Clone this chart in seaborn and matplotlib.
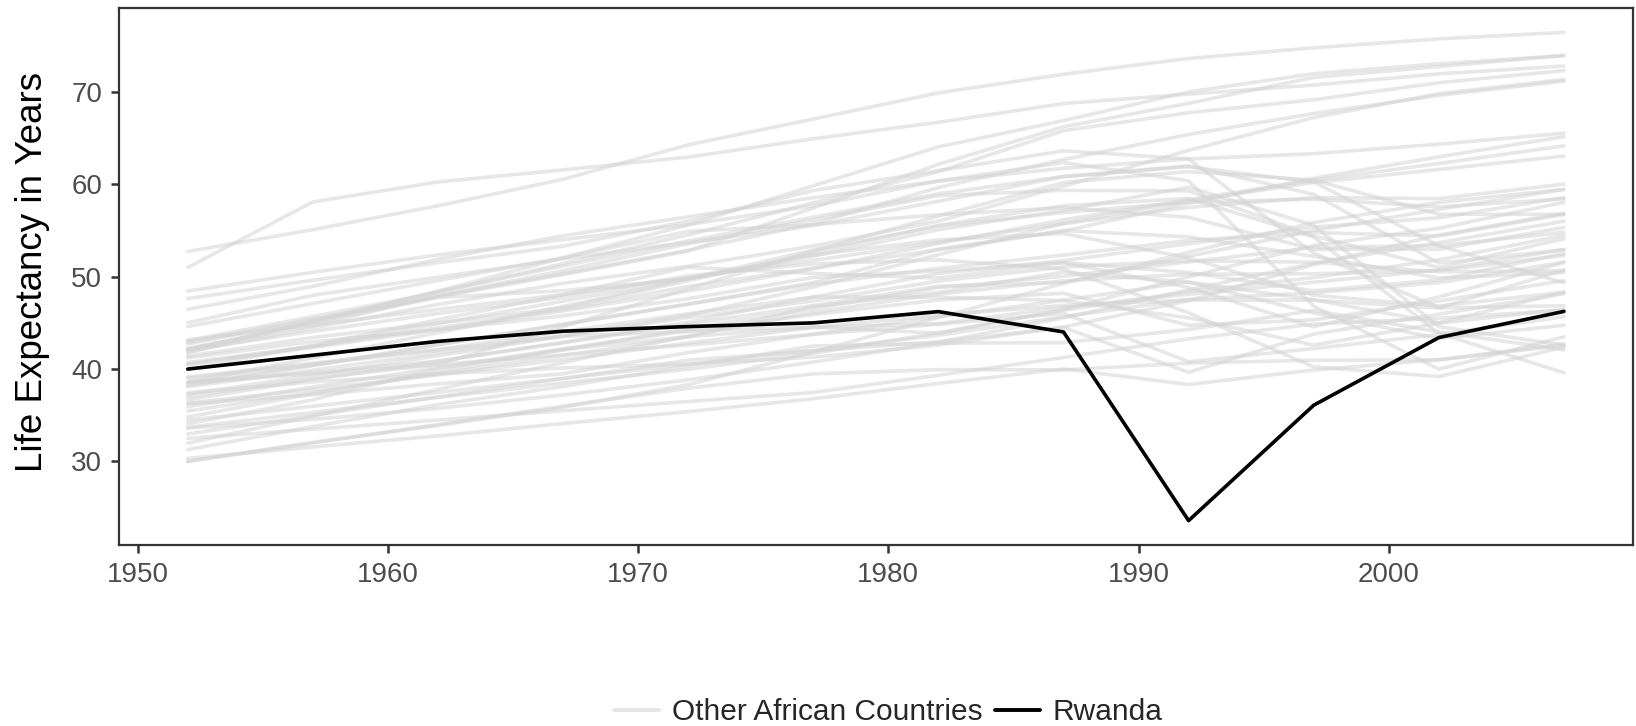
import matplotlib
matplotlib.use("Agg")
import matplotlib.pyplot as plt
import seaborn as sns
import pandas as pd
from matplotlib.lines import Line2D

years = [1952, 1957, 1962, 1967, 1972, 1977, 1982, 1987, 1992, 1997, 2002, 2007]

algeria = [43.08, 45.69, 48.30, 51.41, 54.52, 58.01, 61.37, 65.80, 67.74, 69.15, 70.99, 72.30]
angola = [30.02, 32.00, 34.00, 35.99, 37.93, 39.48, 39.94, 39.91, 40.65, 40.96, 41.00, 42.73]
benin = [38.22, 40.36, 42.62, 44.89, 47.01, 49.19, 50.90, 52.34, 53.92, 54.78, 54.41, 56.73]
botswana = [47.62, 49.62, 51.52, 53.30, 56.02, 59.32, 61.48, 63.62, 62.75, 52.56, 46.63, 50.73]
burkina_faso = [31.98, 34.91, 37.81, 40.70, 43.59, 46.14, 48.12, 49.56, 50.26, 50.32, 50.65, 52.30]
burundi = [39.03, 40.53, 42.05, 43.55, 44.06, 45.91, 47.47, 48.21, 44.74, 45.33, 47.36, 49.58]
cameroon = [38.52, 40.43, 42.64, 44.80, 47.05, 49.36, 52.96, 54.99, 54.31, 52.20, 49.86, 50.43]
central_african_rep = [35.46, 37.46, 39.48, 41.48, 43.46, 46.78, 48.30, 50.49, 49.40, 46.07, 43.31, 44.74]
chad = [38.09, 39.88, 41.72, 43.60, 45.57, 47.38, 49.52, 51.05, 51.72, 51.57, 50.53, 50.65]
comoros = [40.72, 42.46, 44.47, 46.47, 48.94, 50.94, 52.93, 54.93, 57.94, 60.66, 62.97, 65.15]
congo_dem_rep = [39.14, 40.65, 42.12, 44.06, 45.99, 47.80, 47.78, 47.41, 45.55, 42.59, 44.97, 46.46]
congo_rep = [42.11, 45.05, 48.44, 52.04, 54.91, 55.63, 56.70, 57.47, 56.43, 52.96, 52.97, 55.32]
cote_divoire = [40.48, 42.47, 44.93, 47.35, 49.80, 52.37, 53.98, 54.66, 52.04, 47.99, 46.83, 48.33]
djibouti = [34.81, 37.33, 39.69, 42.07, 44.37, 46.52, 48.81, 50.04, 51.60, 53.16, 53.37, 54.79]
egypt = [41.89, 44.44, 46.99, 49.29, 51.14, 53.32, 56.01, 59.80, 63.67, 67.22, 69.81, 71.34]
equatorial_guinea = [34.48, 35.98, 37.49, 38.99, 40.52, 42.02, 43.66, 45.66, 47.55, 48.25, 49.35, 51.58]
eritrea = [35.93, 38.05, 40.16, 42.19, 44.14, 44.54, 43.89, 46.45, 49.99, 53.38, 55.24, 58.04]
ethiopia = [34.08, 36.67, 40.06, 42.12, 43.52, 44.51, 44.92, 46.68, 48.09, 49.40, 50.73, 52.95]
gabon = [37.00, 39.00, 40.49, 44.60, 48.69, 52.79, 56.56, 60.19, 61.37, 60.46, 56.76, 56.74]
gambia = [30.00, 32.07, 33.90, 35.86, 38.31, 41.84, 45.58, 49.27, 52.64, 55.86, 58.04, 59.45]
ghana = [43.15, 44.78, 46.45, 48.07, 49.88, 51.76, 53.74, 55.73, 57.50, 58.56, 58.45, 60.02]
guinea = [33.61, 34.56, 35.75, 37.20, 38.84, 40.76, 42.89, 45.55, 48.58, 51.46, 53.68, 56.01]
guinea_bissau = [32.50, 33.49, 34.49, 35.49, 36.49, 37.47, 39.33, 41.25, 43.27, 44.87, 45.50, 46.39]
kenya = [42.27, 44.69, 47.95, 50.65, 53.56, 56.16, 58.77, 59.34, 59.29, 54.41, 50.99, 54.11]
lesotho = [42.14, 45.05, 47.75, 48.49, 49.77, 52.21, 55.08, 57.18, 59.69, 55.56, 44.59, 42.59]
liberia = [38.48, 39.49, 40.50, 41.54, 42.61, 43.76, 44.85, 46.03, 40.80, 42.22, 43.75, 45.68]
libya = [42.72, 45.29, 47.81, 50.23, 52.77, 57.44, 62.16, 66.23, 68.76, 71.56, 72.74, 73.95]
madagascar = [36.68, 38.87, 40.85, 42.88, 44.85, 46.88, 48.97, 49.35, 52.21, 54.98, 57.29, 59.44]
malawi = [36.26, 37.21, 38.41, 39.49, 41.77, 43.77, 45.64, 47.46, 49.42, 47.50, 45.01, 48.30]
mali = [33.69, 35.31, 36.94, 38.49, 39.98, 41.71, 43.92, 46.36, 48.39, 49.90, 51.82, 54.47]
mauritania = [40.54, 42.34, 44.25, 46.29, 48.44, 50.85, 53.60, 56.15, 58.33, 60.43, 62.25, 64.16]
mauritius = [50.99, 58.09, 60.25, 61.56, 62.94, 64.93, 66.71, 68.74, 69.75, 70.74, 71.95, 72.80]
morocco = [42.87, 45.42, 47.92, 50.34, 52.86, 55.73, 59.65, 62.68, 65.39, 67.66, 69.62, 71.16]
mozambique = [31.29, 33.78, 36.16, 38.11, 40.33, 42.50, 42.80, 42.86, 44.28, 46.34, 44.03, 42.08]
namibia = [41.73, 45.23, 48.39, 51.16, 53.87, 56.44, 58.97, 60.84, 62.00, 58.91, 51.48, 52.91]
niger = [37.44, 38.60, 39.49, 40.12, 40.55, 41.29, 42.60, 44.56, 47.39, 51.31, 54.50, 56.87]
nigeria = [36.32, 37.80, 39.36, 41.04, 42.82, 44.51, 45.83, 46.89, 47.47, 47.46, 46.61, 46.86]
reunion = [52.72, 55.09, 57.67, 60.54, 64.27, 67.06, 69.89, 71.91, 73.62, 74.77, 75.74, 76.44]
sao_tome = [46.47, 48.95, 51.89, 54.43, 56.48, 58.55, 60.35, 61.73, 62.74, 63.31, 64.34, 65.53]
senegal = [37.28, 39.33, 41.45, 43.56, 45.82, 48.88, 52.38, 55.77, 58.20, 60.19, 61.60, 63.06]
sierra_leone = [30.33, 31.57, 32.77, 34.11, 35.40, 36.79, 38.45, 40.01, 38.33, 39.90, 41.01, 42.57]
somalia = [32.98, 34.98, 36.98, 38.98, 40.97, 41.97, 42.96, 44.50, 39.66, 43.80, 45.94, 48.16]
south_africa = [45.01, 47.99, 49.95, 51.93, 53.70, 55.53, 58.16, 60.83, 61.89, 60.24, 53.37, 49.34]
sudan = [38.64, 39.62, 40.87, 42.86, 45.08, 47.80, 50.34, 51.74, 53.56, 55.37, 56.37, 58.56]
swaziland = [41.41, 43.42, 44.99, 46.63, 49.55, 52.54, 55.56, 57.68, 58.47, 54.29, 43.87, 39.61]
tanzania = [41.22, 42.97, 44.25, 45.76, 47.62, 49.92, 50.61, 51.54, 50.44, 48.47, 49.65, 52.52]
togo = [38.60, 41.21, 43.92, 46.77, 49.76, 52.89, 55.47, 56.94, 58.06, 58.39, 57.56, 58.42]
tunisia = [44.60, 47.10, 49.58, 52.05, 55.60, 59.84, 64.05, 66.89, 70.00, 71.97, 73.04, 73.92]
uganda = [39.98, 42.57, 45.34, 48.05, 51.02, 50.35, 49.85, 51.51, 48.83, 44.58, 47.81, 51.54]
zambia = [42.04, 44.08, 46.02, 47.77, 50.11, 51.39, 51.82, 50.82, 46.10, 40.24, 39.19, 42.38]
zimbabwe = [48.45, 50.47, 52.36, 54.00, 55.64, 57.67, 60.36, 62.35, 60.38, 46.81, 39.99, 43.49]

rwanda = [40.00, 41.50, 43.00, 44.10, 44.60, 45.00, 46.22, 44.02, 23.60, 36.09, 43.41, 46.24]

others = {
    "Algeria": algeria, "Angola": angola, "Benin": benin, "Botswana": botswana,
    "Burkina Faso": burkina_faso, "Burundi": burundi, "Cameroon": cameroon,
    "Central African Republic": central_african_rep, "Chad": chad, "Comoros": comoros,
    "Congo, Dem. Rep.": congo_dem_rep, "Congo, Rep.": congo_rep,
    "Cote d'Ivoire": cote_divoire, "Djibouti": djibouti, "Egypt": egypt,
    "Equatorial Guinea": equatorial_guinea, "Eritrea": eritrea, "Ethiopia": ethiopia,
    "Gabon": gabon, "Gambia": gambia, "Ghana": ghana, "Guinea": guinea,
    "Guinea-Bissau": guinea_bissau, "Kenya": kenya, "Lesotho": lesotho,
    "Liberia": liberia, "Libya": libya, "Madagascar": madagascar, "Malawi": malawi,
    "Mali": mali, "Mauritania": mauritania, "Mauritius": mauritius,
    "Morocco": morocco, "Mozambique": mozambique, "Namibia": namibia,
    "Niger": niger, "Nigeria": nigeria, "Reunion": reunion,
    "Sao Tome and Principe": sao_tome, "Senegal": senegal,
    "Sierra Leone": sierra_leone, "Somalia": somalia, "South Africa": south_africa,
    "Sudan": sudan, "Swaziland": swaziland, "Tanzania": tanzania, "Togo": togo,
    "Tunisia": tunisia, "Uganda": uganda, "Zambia": zambia, "Zimbabwe": zimbabwe,
}

group_labels = ["Other African Countries", "Rwanda"]

rows = []
for name, vals in others.items():
    for y, v in zip(years, vals):
        rows.append({"country": name, "year": y, "lifeExp": v, "group": group_labels[0]})
df_other = pd.DataFrame(rows)
df_rw = pd.DataFrame({"country": "Rwanda", "year": years, "lifeExp": rwanda, "group": group_labels[1]})

sns.set_theme(style="white")
plt.rcParams["font.family"] = ["Liberation Sans", "DejaVu Sans"]

fig = plt.figure(figsize=(16.36, 7.26), dpi=100)
ax = fig.add_axes([0.0727, 0.2493, 0.9253, 0.7397])

sns.lineplot(data=df_other, x="year", y="lifeExp", units="country", estimator=None,
             color="#d4d4d4", alpha=0.55, linewidth=2.6, ax=ax, legend=False)
sns.lineplot(data=df_rw, x="year", y="lifeExp", units="country", estimator=None,
             color="black", linewidth=2.6, ax=ax, legend=False)

ax.set_xlim(1949.25, 2009.75)
ax.set_ylim(20.96, 79.08)
ax.set_xticks([1950, 1960, 1970, 1980, 1990, 2000])
ax.set_yticks([30, 40, 50, 60, 70])
ax.set_xlabel("")
ax.set_ylabel("Life Expectancy in Years", fontsize=26.5, color="black")
ax.yaxis.set_label_coords(-0.0456, 0.508)

for s in ax.spines.values():
    s.set_color("#333333")
    s.set_linewidth(1.6)
ax.tick_params(axis="both", which="major", length=6, width=1.8, color="#333333",
               labelsize=20, labelcolor="#4d4d4d", pad=6, bottom=True, left=True)

handles = [Line2D([0], [0], color="#e6e6e6", lw=2.8),
           Line2D([0], [0], color="black", lw=2.8)]
fig.legend(handles, group_labels, loc="center", bbox_to_anchor=(0.543, 0.019),
           ncol=2, frameon=False, fontsize=21.5, handlelength=1.5, handletextpad=0.43,
           columnspacing=0.43)

fig.savefig("out.png", dpi=100)
